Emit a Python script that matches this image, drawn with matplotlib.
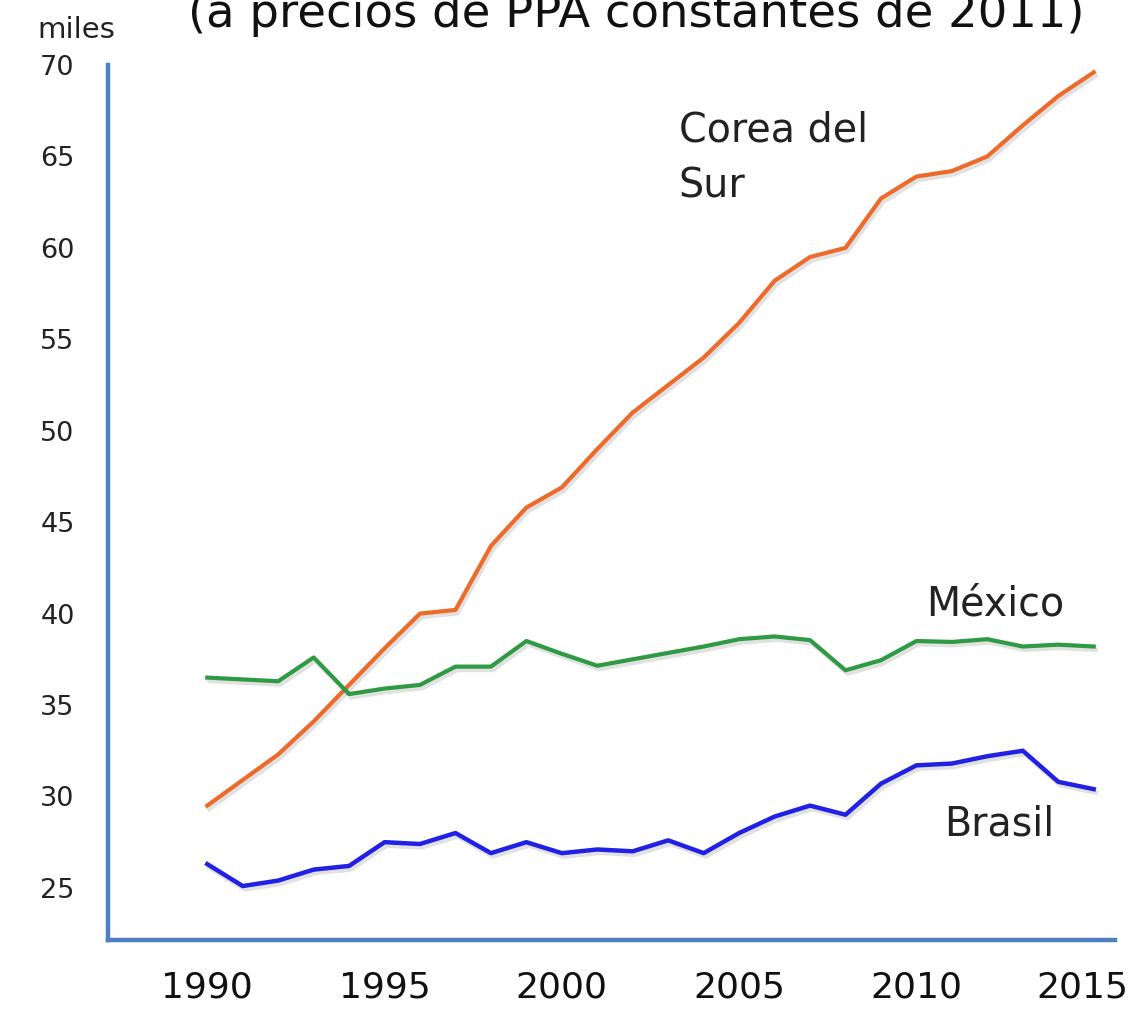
import matplotlib
matplotlib.use("Agg")
import matplotlib.pyplot as plt
import matplotlib.patheffects as pe
import matplotlib.transforms as mtransforms

years = list(range(1990, 2016))
corea = [29.5, 30.9, 32.3, 34.1, 36.1, 38.1, 40.0, 40.2, 43.7, 45.8,
         46.9, 49.0, 51.0, 52.5, 54.0, 55.9, 58.2, 59.5, 60.0, 62.7,
         63.9, 64.2, 65.0, 66.7, 68.3, 69.6]
mexico = [36.5, 36.4, 36.3, 37.6, 35.6, 35.9, 36.1, 37.1, 37.1, 38.5,
          37.8, 37.15, 37.5, 37.85, 38.2, 38.6, 38.75, 38.55, 36.9, 37.45,
          38.5, 38.45, 38.6, 38.2, 38.3, 38.2]
brasil = [26.3, 25.1, 25.4, 26.0, 26.2, 27.5, 27.4, 28.0, 26.9, 27.5,
          26.9, 27.1, 27.0, 27.6, 26.9, 28.0, 28.9, 29.5, 29.0, 30.7,
          31.7, 31.8, 32.2, 32.5, 30.8, 30.4]
yticks = [25, 30, 35, 40, 45, 50, 55, 60, 65, 70]
xticks = [1990, 1995, 2000, 2005, 2010, 2015]

fig = plt.figure(figsize=(11.31, 10.10), dpi=100)
ax = fig.add_axes([108/1131, 70/1010, 1007/1131, 875/1010])

shadow = [pe.SimpleLineShadow(offset=(1.5, -2.5), shadow_color="#888888", alpha=0.25),
          pe.Normal()]
ax.plot(years, corea, color="#EE6A2A", lw=3.0, solid_joinstyle="round",
        path_effects=shadow)
ax.plot(years, mexico, color="#2E9A44", lw=3.0, solid_joinstyle="round",
        path_effects=shadow)
ax.plot(years, brasil, color="#2121E6", lw=3.2, solid_joinstyle="round",
        path_effects=shadow)

ax.set_xlim(1987.2, 2015.6)
ax.set_ylim(22.15, 70.0)
ax.set_yticks(yticks)
ax.set_yticklabels([str(v) for v in yticks], fontsize=19.5, color="#222222")
ax.set_xticks(xticks)
ax.set_xticklabels([str(v) for v in xticks], fontsize=26, color="#111111")
ax.tick_params(axis="y", length=0, pad=24)
ax.tick_params(axis="x", length=0, pad=22)

# the last year label sits slightly left of its data position in the original
lbls = ax.get_xticklabels()
lbls[-1].set_transform(lbls[-1].get_transform() +
                       mtransforms.ScaledTranslation(-11/100, 0, fig.dpi_scale_trans))

for s in ["top", "right"]:
    ax.spines[s].set_visible(False)
for s in ["left", "bottom"]:
    ax.spines[s].set_color("#4F7FC0")
    ax.spines[s].set_linewidth(3.2)

ax.text(2003.3, 64.9, "Corea del\nSur", fontsize=28.5, color="#222222",
        ha="left", va="center", linespacing=1.5)
ax.text(2010.26, 40.48, "México", fontsize=28.5, color="#222222",
        ha="left", va="center")
ax.text(2010.77, 28.45, "Brasil", fontsize=28.5, color="#222222",
        ha="left", va="center")

fig.text(76/1131, 1 - 30/1010, "miles", fontsize=21, color="#222222",
         ha="center", va="center")
fig.text(636/1131, 1 - 27/1010, "(a precios de PPA constantes de 2011)",
         fontsize=33.5, color="#111111", ha="center", va="baseline")

fig.savefig("out.png", dpi=100)
